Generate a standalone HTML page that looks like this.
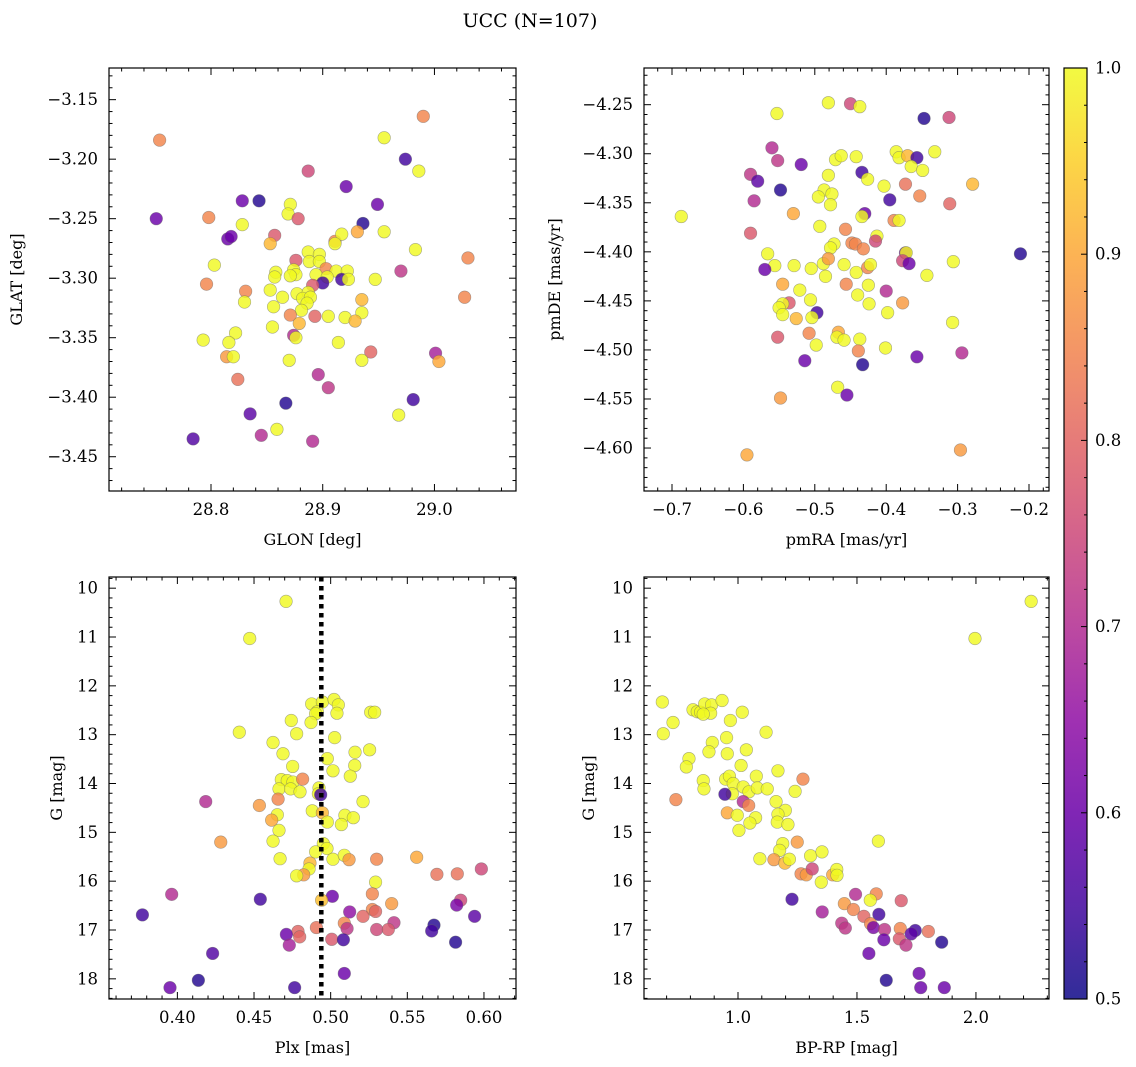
<!DOCTYPE html>
<html><head><meta charset="utf-8"><style>
html,body{margin:0;padding:0;background:#fff;}
svg{display:block;font-family:"DejaVu Serif","Liberation Serif",serif;}
</style></head><body>
<svg id="fig" width="1136" height="1067" viewBox="0 0 1136 1067" xmlns="http://www.w3.org/2000/svg">
<text x="530" y="27" font-size="19" text-anchor="middle">UCC (N=107)</text>
</svg>
<script>
const glon=[28.990,28.754,28.955,28.974,28.986,28.887,28.921,28.828,28.843,28.949,28.751,28.798,28.871,28.869,28.878,28.828,28.936,28.931,28.955,28.815,28.818,28.857,28.853,28.911,28.917,28.911,28.983,29.030,28.803,28.887,28.897,28.888,28.897,28.876,28.903,28.912,28.922,28.858,28.857,28.874,28.876,28.871,28.894,28.904,28.900,28.917,28.923,28.947,28.970,28.796,28.891,28.831,28.853,28.830,28.864,28.877,28.887,28.882,28.889,28.886,28.856,28.881,28.935,29.027,28.871,28.893,28.905,28.920,28.935,28.929,28.879,28.855,28.822,28.793,28.816,28.874,28.876,28.914,28.814,28.820,28.870,28.943,28.935,29.001,29.004,28.824,28.896,28.905,28.981,28.867,28.835,28.968,28.784,28.845,28.859,28.891];
const glat=[-3.164,-3.184,-3.182,-3.200,-3.210,-3.210,-3.223,-3.235,-3.235,-3.238,-3.250,-3.249,-3.238,-3.246,-3.250,-3.255,-3.254,-3.261,-3.261,-3.267,-3.265,-3.264,-3.271,-3.269,-3.263,-3.271,-3.276,-3.283,-3.289,-3.278,-3.280,-3.286,-3.286,-3.285,-3.292,-3.294,-3.294,-3.295,-3.299,-3.293,-3.297,-3.298,-3.297,-3.299,-3.304,-3.301,-3.301,-3.301,-3.294,-3.305,-3.306,-3.311,-3.310,-3.320,-3.316,-3.313,-3.312,-3.317,-3.316,-3.321,-3.324,-3.327,-3.318,-3.316,-3.331,-3.332,-3.332,-3.333,-3.329,-3.336,-3.338,-3.341,-3.346,-3.352,-3.354,-3.348,-3.350,-3.354,-3.366,-3.366,-3.369,-3.362,-3.369,-3.363,-3.370,-3.385,-3.381,-3.392,-3.402,-3.405,-3.414,-3.415,-3.435,-3.432,-3.427,-3.437];
const prob1=[.85,.85,.97,.55,.97,.75,.6,.6,.52,.6,.6,.85,.97,.97,.78,.97,.52,.9,.97,.6,.6,.78,.92,.85,.97,.97,.97,.85,.97,.97,.97,.97,.97,.78,.85,.97,.97,.97,.97,.97,.97,.97,.97,.97,.55,.55,.97,.97,.72,.85,.78,.85,.97,.97,.97,.97,.97,.97,.97,.97,.97,.97,.92,.85,.85,.8,.97,.97,.97,.92,.92,.97,.97,.97,.97,.7,.95,.97,.88,.97,.97,.8,.97,.68,.9,.82,.7,.72,.55,.52,.58,.97,.57,.7,.95,.7];

const pmra=[-0.481,-0.450,-0.437,-0.553,-0.347,-0.312,-0.560,-0.552,-0.519,-0.590,-0.580,-0.548,-0.585,-0.687,-0.590,-0.481,-0.471,-0.463,-0.442,-0.434,-0.426,-0.487,-0.495,-0.476,-0.478,-0.386,-0.382,-0.370,-0.357,-0.365,-0.349,-0.332,-0.279,-0.403,-0.373,-0.353,-0.395,-0.311,-0.530,-0.430,-0.434,-0.389,-0.382,-0.493,-0.457,-0.413,-0.415,-0.473,-0.478,-0.448,-0.443,-0.432,-0.373,-0.372,-0.377,-0.368,-0.212,-0.306,-0.566,-0.556,-0.570,-0.529,-0.505,-0.488,-0.481,-0.485,-0.459,-0.442,-0.426,-0.422,-0.343,-0.545,-0.456,-0.425,-0.521,-0.440,-0.400,-0.506,-0.424,-0.377,-0.536,-0.545,-0.550,-0.545,-0.497,-0.504,-0.526,-0.398,-0.307,-0.552,-0.508,-0.467,-0.469,-0.459,-0.437,-0.498,-0.439,-0.401,-0.294,-0.514,-0.433,-0.357,-0.468,-0.455,-0.548,-0.595,-0.296];
const pmde=[-4.248,-4.249,-4.252,-4.259,-4.264,-4.263,-4.294,-4.307,-4.311,-4.321,-4.328,-4.337,-4.348,-4.364,-4.381,-4.322,-4.306,-4.302,-4.303,-4.319,-4.326,-4.337,-4.344,-4.341,-4.352,-4.298,-4.304,-4.302,-4.304,-4.313,-4.317,-4.298,-4.331,-4.333,-4.331,-4.343,-4.347,-4.351,-4.361,-4.361,-4.364,-4.368,-4.368,-4.374,-4.377,-4.384,-4.389,-4.392,-4.396,-4.391,-4.392,-4.397,-4.401,-4.401,-4.409,-4.412,-4.402,-4.410,-4.402,-4.414,-4.418,-4.414,-4.417,-4.412,-4.407,-4.425,-4.413,-4.421,-4.416,-4.413,-4.424,-4.433,-4.433,-4.434,-4.439,-4.444,-4.440,-4.449,-4.453,-4.452,-4.452,-4.453,-4.457,-4.464,-4.462,-4.467,-4.468,-4.462,-4.472,-4.487,-4.483,-4.482,-4.487,-4.490,-4.489,-4.495,-4.501,-4.498,-4.503,-4.511,-4.515,-4.507,-4.538,-4.546,-4.549,-4.607,-4.602];
const prob2=[.97,.75,.97,.97,.52,.75,.7,.72,.6,.72,.58,.52,.7,.97,.78,.97,.97,.97,.95,.55,.97,.97,.97,.97,.97,.97,.97,.92,.55,.97,.97,.97,.92,.97,.82,.85,.55,.8,.9,.6,.95,.85,.97,.97,.85,.97,.75,.97,.97,.85,.85,.85,.62,.97,.75,.6,.52,.97,.97,.97,.6,.97,.97,.97,.88,.97,.97,.97,.85,.97,.97,.9,.85,.97,.97,.97,.7,.97,.97,.88,.78,.97,.97,.97,.55,.97,.92,.97,.97,.78,.85,.9,.97,.97,.97,.97,.85,.97,.7,.6,.52,.6,.97,.6,.88,.9,.88];

const plx=[0.4709,0.4472,0.4404,0.4876,0.4946,0.5022,0.5050,0.5041,0.4913,0.4902,0.4872,0.4743,0.4778,0.5261,0.5287,0.5026,0.4624,0.4689,0.5254,0.5159,0.4978,0.4752,0.5157,0.5015,0.5128,0.4678,0.4717,0.4754,0.4817,0.4663,0.4739,0.4800,0.4924,0.4920,0.4935,0.4185,0.4535,0.4657,0.5211,0.4652,0.4615,0.4880,0.4946,0.5093,0.5148,0.4978,0.5070,0.4663,0.4283,0.4624,0.4952,0.4976,0.4902,0.4670,0.5015,0.5089,0.5120,0.5300,0.5561,0.4865,0.4859,0.4824,0.4778,0.5693,0.5826,0.5983,0.5293,0.3963,0.4541,0.5011,0.4941,0.5272,0.5398,0.5848,0.5822,0.3772,0.5124,0.5272,0.5293,0.5211,0.5939,0.5089,0.5413,0.5674,0.5659,0.4787,0.4907,0.5107,0.5300,0.5376,0.4711,0.4798,0.5007,0.5083,0.4730,0.5815,0.4230,0.5089,0.4137,0.3952,0.4765];
const gmag3=[10.27,11.03,12.95,12.37,12.33,12.28,12.39,12.56,12.53,12.57,12.75,12.71,12.98,12.54,12.54,13.06,13.16,13.39,13.31,13.36,13.49,13.65,13.63,13.74,13.85,13.92,13.94,13.97,13.91,14.11,14.11,14.17,14.09,14.21,14.23,14.37,14.45,14.32,14.37,14.64,14.75,14.56,14.60,14.65,14.70,14.79,14.84,14.96,15.20,15.18,15.23,15.33,15.40,15.54,15.55,15.47,15.56,15.55,15.51,15.63,15.75,15.87,15.89,15.86,15.85,15.75,16.02,16.27,16.37,16.31,16.39,16.26,16.46,16.39,16.49,16.69,16.63,16.58,16.62,16.72,16.72,16.86,16.85,16.90,17.02,17.03,16.95,16.97,16.99,16.99,17.09,17.14,17.19,17.20,17.31,17.25,17.48,17.89,18.03,18.18,18.18];
const prob3=[.97,.97,.97,.97,.97,.97,.97,.97,.97,.97,.97,.97,.97,.97,.97,.97,.97,.97,.97,.97,.97,.97,.97,.97,.97,.97,.97,.97,.85,.97,.97,.97,.97,.95,.55,.7,.88,.85,.97,.97,.9,.97,.92,.97,.97,.97,.97,.97,.88,.97,.97,.97,.95,.97,.97,.97,.88,.85,.9,.92,.97,.88,.97,.82,.82,.75,.97,.7,.55,.6,.93,.85,.88,.75,.62,.55,.65,.85,.8,.8,.58,.85,.72,.52,.55,.8,.82,.72,.75,.78,.6,.8,.78,.55,.68,.52,.57,.6,.52,.6,.55];
const plxRef=[0.4939];

const bprp=[2.232,1.996,0.682,0.811,0.829,0.843,0.860,0.889,0.885,0.854,0.933,0.968,1.018,0.727,0.686,1.118,0.892,0.952,0.878,1.035,0.955,0.794,0.783,1.013,1.168,0.854,0.948,0.964,1.077,1.273,0.857,0.980,1.022,1.046,1.081,1.123,1.240,0.976,0.945,0.739,1.022,1.045,1.160,1.199,1.168,0.955,0.997,1.074,1.050,1.165,1.210,1.004,1.590,1.188,1.249,1.175,1.305,1.353,1.092,1.151,1.197,1.216,1.265,1.287,1.312,1.398,1.415,1.416,1.350,1.227,1.494,1.581,1.556,1.686,1.447,1.354,1.485,1.529,1.592,1.436,1.451,1.557,1.569,1.616,1.682,1.745,1.728,1.800,1.613,1.678,1.706,1.856,1.550,1.761,1.623,1.768,1.867];
const gmag4=[10.27,11.03,12.33,12.49,12.53,12.54,12.37,12.39,12.56,12.58,12.30,12.71,12.54,12.75,12.98,12.95,13.16,13.06,13.35,13.31,13.39,13.49,13.66,13.63,13.74,13.94,13.91,13.85,13.85,13.91,14.11,14.00,14.07,14.17,14.09,14.11,14.16,14.21,14.22,14.33,14.37,14.45,14.37,14.55,14.63,14.60,14.65,14.70,14.81,14.79,14.84,14.96,15.18,15.23,15.20,15.37,15.48,15.40,15.54,15.56,15.63,15.55,15.85,15.87,15.75,15.87,15.76,15.88,16.02,16.37,16.27,16.26,16.39,16.40,16.46,16.63,16.58,16.72,16.68,16.86,16.96,16.87,16.95,16.99,16.97,17.01,17.08,17.03,17.20,17.18,17.31,17.25,17.48,17.89,18.03,18.18,18.18];
const prob4=[.97,.97,.97,.97,.97,.97,.97,.97,.97,.97,.97,.97,.97,.97,.97,.97,.97,.97,.97,.97,.97,.97,.97,.97,.97,.97,.97,.97,.97,.85,.97,.97,.95,.97,.97,.97,.97,.97,.55,.85,.7,.85,.97,.97,.97,.9,.97,.97,.97,.97,.97,.97,.97,.97,.88,.97,.97,.97,.97,.88,.92,.97,.85,.88,.75,.9,.97,.97,.97,.55,.7,.85,.95,.78,.88,.68,.85,.8,.55,.72,.72,.85,.62,.72,.85,.55,.58,.82,.6,.78,.72,.52,.6,.6,.52,.6,.6];

const cbTicks=[0.5,0.6,0.7,0.8,0.9,1.0];

const NS="http://www.w3.org/2000/svg";
const svg=document.getElementById('fig');
function mk(tag,attrs,parent){const e=document.createElementNS(NS,tag);for(const k in attrs)e.setAttribute(k,attrs[k]);(parent||svg).appendChild(e);return e;}
const stops=[[13,8,135],[65,4,157],[106,0,168],[143,13,164],[177,42,144],[204,71,120],[225,100,98],[242,132,75],[252,166,54],[252,206,37],[240,249,33]];
function plasma(t){t=Math.max(0,Math.min(1,t));const f=t*10,i=Math.min(9,Math.floor(f)),r=f-i;const a=stops[i],b=stops[i+1];return 'rgb('+a.map((v,k)=>Math.round(v+(b[k]-v)*r)).join(',')+')';}
function cmap(p){if(p>=0.95)p=1.0;return plasma((p-0.5)/0.5);}
function fmt(v,d){let s=v.toFixed(d);if(v<0)s='\u2212'+s.slice(1);return s;}

function panel(o){
  const g=mk('g',{});
  
  
  const X=v=>o.x0+(v-o.xmin)/(o.xmax-o.xmin)*(o.x1-o.x0);
  const Y=o.yinv? v=>o.y0+(v-o.ymin)/(o.ymax-o.ymin)*(o.y1-o.y0) : v=>o.y1-(v-o.ymin)/(o.ymax-o.ymin)*(o.y1-o.y0);
  const clip='clip-'+o.name;
  const cp=mk('clipPath',{id:clip},g);mk('rect',{x:o.x0,y:o.y0,width:o.x1-o.x0,height:o.y1-o.y0},cp);
  const pts=mk('g',{'clip-path':'url(#'+clip+')'},g);
  
  
  for(let i=0;i<o.xs.length;i++){
    const c=mk('circle',{cx:X(o.xs[i]),cy:Y(o.ys[i]),r:6.3,fill:cmap(o.ps[i]),'fill-opacity':0.82,stroke:'#666','stroke-opacity':0.55,'stroke-width':0.6},pts);
    
    
  }
  if(o.vline){
    for(const v of o.vline){
      const l=mk('line',{x1:X(v),x2:X(v),y1:o.y0,y2:o.y1,stroke:'#000','stroke-width':4.5,'stroke-dasharray':'4.5 4.5'},g);
      
      
    }
  }
  const ax=mk('g',{stroke:'#000','stroke-width':1},g);
  
  
  const eps=1e-9;
  for(let v=Math.ceil(o.xmin/o.xminor-eps)*o.xminor;v<=o.xmax+eps;v+=o.xminor){
    const isM=Math.abs(v/o.xmajor-Math.round(v/o.xmajor))<1e-6, L=isM?7:3.5, x=X(v);
    mk('line',{x1:x,x2:x,y1:o.y1,y2:o.y1-L},ax);mk('line',{x1:x,x2:x,y1:o.y0,y2:o.y0+L},ax);
  }
  for(let v=Math.ceil(o.ymin/o.yminor-eps)*o.yminor;v<=o.ymax+eps;v+=o.yminor){
    const isM=Math.abs(v/o.ymajor-Math.round(v/o.ymajor))<1e-6, L=isM?7:3.5, y=Y(v);
    mk('line',{x1:o.x0,x2:o.x0+L,y1:y,y2:y},ax);mk('line',{x1:o.x1,x2:o.x1-L,y1:y,y2:y},ax);
  }
  for(const v of o.xticks){const t=mk('text',{x:X(v),y:o.y1+24,'font-size':16.5,'text-anchor':'middle'},g);t.textContent=fmt(v,o.xd);
    }
  for(const v of o.yticks){const t=mk('text',{x:o.x0-11,y:Y(v)+5.5,'font-size':16.5,'text-anchor':'end'},g);t.textContent=fmt(v,o.yd);
    }
  mk('rect',{x:o.x0,y:o.y0,width:o.x1-o.x0,height:o.y1-o.y0,fill:'none',stroke:'#000','stroke-width':1.2},g);
  const xl=mk('text',{x:(o.x0+o.x1)/2,y:o.y1+54,'font-size':16,'text-anchor':'middle'},g);xl.textContent=o.xlabel;
  
  const yx=o.ylx, yy=(o.y0+o.y1)/2;
  const yl=mk('text',{x:yx,y:yy,'font-size':16,'text-anchor':'middle',transform:'rotate(-90 '+yx+' '+yy+')'},g);yl.textContent=o.ylabel;
  
}
function rng(a,b,s){const r=[];for(let v=a;v<=b+1e-9;v+=s)r.push(Math.round(v*1e6)/1e6);return r;}

panel({name:'panel-glon-glat',x0:109,x1:516,y0:68,y1:491,xmin:28.7087,xmax:29.073,ymin:-3.4788,ymax:-3.1234,
  xs:glon,ys:glat,ps:prob1,xmajor:0.1,xminor:0.02,ymajor:0.05,yminor:0.01,xticks:[28.8,28.9,29.0],yticks:rng(-3.45,-3.15,0.05),xd:1,yd:2,
  xlabel:'GLON [deg]',ylabel:'GLAT [deg]',ylx:22});
panel({name:'panel-pmra-pmde',x0:644,x1:1049,y0:68,y1:491,xmin:-0.7392,xmax:-0.172,ymin:-4.6438,ymax:-4.2126,
  xs:pmra,ys:pmde,ps:prob2,xmajor:0.1,xminor:0.02,ymajor:0.05,yminor:0.01,xticks:rng(-0.7,-0.2,0.1),yticks:rng(-4.6,-4.25,0.05),xd:1,yd:2,
  xlabel:'pmRA [mas/yr]',ylabel:'pmDE [mas/yr]',ylx:560});
panel({name:'panel-plx-g',x0:109,x1:516,y0:577,y1:999,xmin:0.3554,xmax:0.6209,ymin:9.771,ymax:18.413,yinv:true,
  xs:plx,ys:gmag3,ps:prob3,xmajor:0.05,xminor:0.01,ymajor:1,yminor:0.2,xticks:rng(0.4,0.6,0.05),yticks:rng(10,18,1),xd:2,yd:0,
  xlabel:'Plx [mas]',ylabel:'G [mag]',ylx:62,vline:plxRef});
panel({name:'panel-bprp-g',x0:644,x1:1049,y0:577,y1:999,xmin:0.605,xmax:2.307,ymin:9.771,ymax:18.413,yinv:true,
  xs:bprp,ys:gmag4,ps:prob4,xmajor:0.5,xminor:0.1,ymajor:1,yminor:0.2,xticks:[1.0,1.5,2.0],yticks:rng(10,18,1),xd:1,yd:0,
  xlabel:'BP-RP [mag]',ylabel:'G [mag]',ylx:594});

(function(){
  const g=mk('g',{});
  
  
  const x0=1064,x1=1087,y0=68,y1=999;
  const defs=mk('defs',{},g);
  const lg=mk('linearGradient',{id:'cbgrad',x1:0,y1:1,x2:0,y2:0},defs);
  for(let i=0;i<=20;i++){mk('stop',{offset:(i/20),'stop-color':plasma(i/20)},lg);}
  mk('rect',{x:x0,y:y0,width:x1-x0,height:y1-y0,fill:'url(#cbgrad)','fill-opacity':0.85},g);
  const Yc=v=>y1-(v-0.5)/0.5*(y1-y0);
  for(let v=0.5;v<=1.0001;v+=0.02){const y=Yc(v);const isM=Math.abs(v*10-Math.round(v*10))<1e-6;
    mk('line',{x1:x1,x2:x1-(isM?6:3),y1:y,y2:y,stroke:'#000','stroke-width':1},g);}
  for(const v of cbTicks){const t=mk('text',{x:x1+8,y:Yc(v)+5.5,'font-size':16.5},g);t.textContent=v.toFixed(1);
    }
  mk('rect',{x:x0,y:y0,width:x1-x0,height:y1-y0,fill:'none',stroke:'#000','stroke-width':1.2},g);
})();
</script>
</body></html>
